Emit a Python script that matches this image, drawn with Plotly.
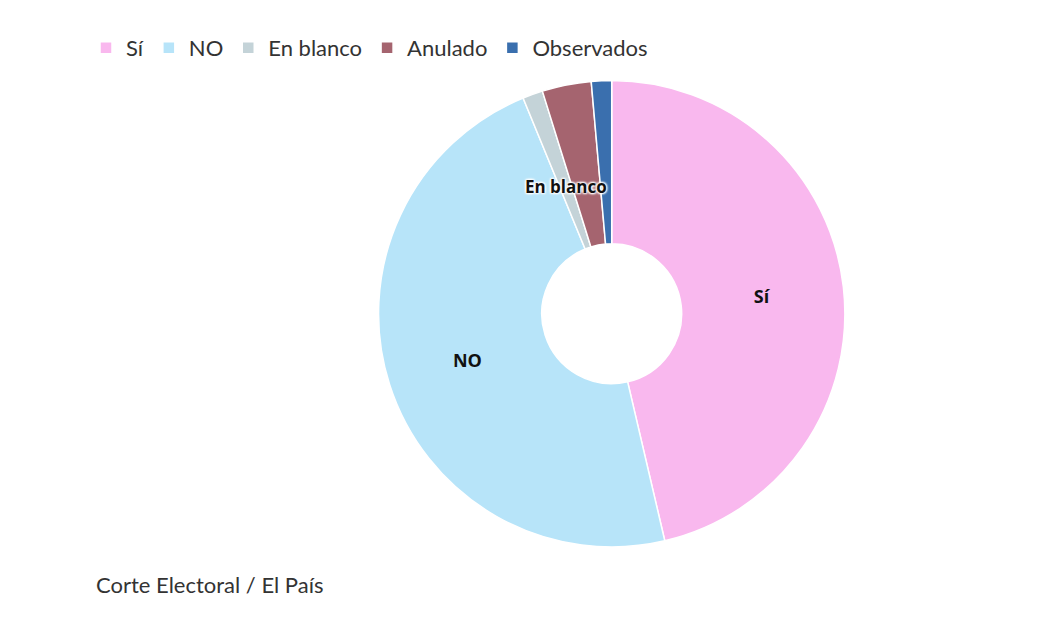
import plotly.graph_objects as go

labels = ["Sí", "NO", "En blanco", "Anulado", "Observados"]
values = [46.3, 47.4, 1.4, 3.4, 1.4]
colors = ["#f9b8ee", "#b7e4f9", "#c4d3d8", "#a5646f", "#3a6fae"]
shown = ["<b>Sí</b>", "<b>NO</b>", "", "", ""]

fig = go.Figure()
fig.add_trace(go.Pie(
    labels=labels, values=values, sort=False, direction="clockwise", rotation=0,
    hole=0.3, marker=dict(colors=colors, line=dict(color="white", width=1.5)),
    text=shown, textinfo="text", textposition="inside",
    insidetextorientation="horizontal",
    textfont=dict(size=18, color="#111", family="Open Sans"),
    domain=dict(x=[0.356, 0.805], y=[0.146, 0.885]),
    hoverinfo="label+percent",
))

# label for the small "En blanco" slice
fig.add_annotation(x=558/1040, y=1-165/631, xref="paper", yref="paper",
                   text="<b>En blanco</b>", showarrow=False,
                   font=dict(size=17, color="#111", family="Open Sans",
                             shadow="1px 1px 2px white, -1px -1px 2px white, 1px -1px 2px white, -1px 1px 2px white"))
fig.add_annotation(x=86/1040, y=1-592/631, xref="paper", yref="paper",
                   xanchor="left", text="Corte Electoral / El País", showarrow=False,
                   font=dict(size=22, color="#333", family="Lato"))

fig.update_layout(
    width=1040, height=631, margin=dict(l=0, r=0, t=0, b=0),
    paper_bgcolor="white", plot_bgcolor="white",
    font=dict(family="Lato", color="#333"),
    legend=dict(orientation="h", x=78/1040, y=1-40/631, xanchor="left", yanchor="middle",
                font=dict(size=22), itemwidth=30, traceorder="normal"),
)
fig.write_html("out.html")
